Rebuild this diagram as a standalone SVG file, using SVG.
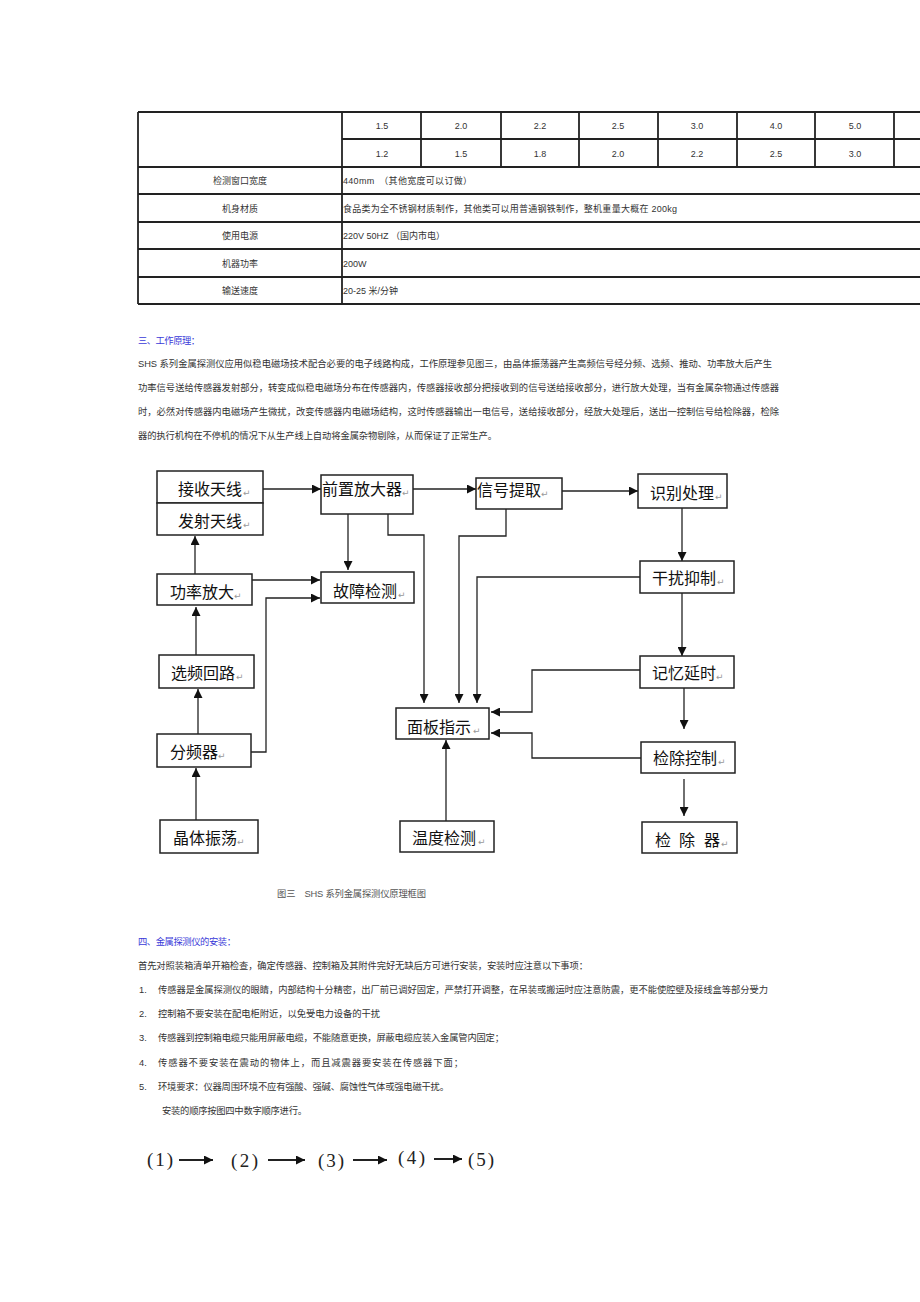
<svg xmlns="http://www.w3.org/2000/svg" width="920" height="1302" viewBox="0 0 920 1302">
<style>
.bg{fill:#fff}
.tl{stroke:#222;stroke-width:1.8;fill:none}
.tt{font-family:"Liberation Sans","Noto Sans CJK SC",sans-serif;font-size:9px;fill:#333}
.tc{text-anchor:middle}
.bt{font-family:"Liberation Sans","Noto Sans CJK SC",sans-serif;font-size:9.3px;fill:#333}
.hd{font-family:"Liberation Sans","Noto Sans CJK SC",sans-serif;font-size:9.3px;fill:#3a3ad8}
.cap{font-family:"Liberation Sans","Noto Sans CJK SC",sans-serif;font-size:9.3px;fill:#555}
.box{fill:#fff;stroke:#222;stroke-width:1.5}
.nt{font-family:"Noto Sans CJK SC",sans-serif;font-size:16px;fill:#111}
.rm{font-family:"DejaVu Sans",sans-serif;font-size:9px;fill:#999}
.cn{fill:none;stroke:#222;stroke-width:1.3}
.sq{font-family:"Liberation Serif","Noto Sans CJK SC",serif;font-size:19px;fill:#222}
.sa{stroke:#222;stroke-width:2;fill:none}
</style>
<defs>
<marker id="ah" viewBox="0 0 10 10" refX="10" refY="5" markerUnits="userSpaceOnUse" markerWidth="9" markerHeight="9" orient="auto">
<path d="M0,0 L10,5 L0,10 z" fill="#111"/>
</marker>
</defs>
<rect class="bg" x="0" y="0" width="920" height="1302"/>

<!-- table -->
<g id="table">
<line class="tl" x1="138" y1="112" x2="920" y2="112"/>
<line class="tl" x1="342" y1="139" x2="920" y2="139"/>
<line class="tl" x1="138" y1="167" x2="920" y2="167"/>
<line class="tl" x1="138" y1="194" x2="920" y2="194"/>
<line class="tl" x1="138" y1="222" x2="920" y2="222"/>
<line class="tl" x1="138" y1="249" x2="920" y2="249"/>
<line class="tl" x1="138" y1="277" x2="920" y2="277"/>
<line class="tl" x1="138" y1="304" x2="920" y2="304"/>
<line class="tl" x1="138" y1="112" x2="138" y2="304"/>
<line class="tl" x1="342" y1="112" x2="342" y2="304"/>
<line class="tl" x1="421" y1="112" x2="421" y2="167"/>
<line class="tl" x1="501" y1="112" x2="501" y2="167"/>
<line class="tl" x1="579" y1="112" x2="579" y2="167"/>
<line class="tl" x1="658" y1="112" x2="658" y2="167"/>
<line class="tl" x1="737" y1="112" x2="737" y2="167"/>
<line class="tl" x1="815" y1="112" x2="815" y2="167"/>
<line class="tl" x1="894" y1="112" x2="894" y2="167"/>
<g class="tt tc">
<text x="382" y="129">1.5</text><text x="461" y="129">2.0</text><text x="540" y="129">2.2</text><text x="618" y="129">2.5</text><text x="697" y="129">3.0</text><text x="776" y="129">4.0</text><text x="855" y="129">5.0</text>
<text x="382" y="157">1.2</text><text x="461" y="157">1.5</text><text x="540" y="157">1.8</text><text x="618" y="157">2.0</text><text x="697" y="157">2.2</text><text x="776" y="157">2.5</text><text x="855" y="157">3.0</text>
<text x="240" y="184">检测窗口宽度</text>
<text x="240" y="212">机身材质</text>
<text x="240" y="239">使用电源</text>
<text x="240" y="267">机器功率</text>
<text x="240" y="294">输送速度</text>
</g>
<g class="tt">
<text x="343" y="184" textLength="129" lengthAdjust="spacing">440mm　（其他宽度可以订做）</text>
<text x="343" y="212" textLength="334" lengthAdjust="spacing">食品类为全不锈钢材质制作，其他类可以用普通钢铁制作，整机重量大概在 200kg</text>
<text x="343" y="239" textLength="102" lengthAdjust="spacing">220V  50HZ （国内市电）</text>
<text x="343" y="267">200W</text>
<text x="343" y="294">20-25 米/分钟</text>
</g>
</g>

<!-- section three -->
<g id="sec3">
<text class="hd" x="138" y="344" textLength="62" lengthAdjust="spacing">三、工作原理：</text>
<text class="bt" x="138" y="367" textLength="634" lengthAdjust="spacing">SHS 系列金属探测仪应用似稳电磁场技术配合必要的电子线路构成，工作原理参见图三，由晶体振荡器产生高频信号经分频、选频、推动、功率放大后产生</text>
<text class="bt" x="138" y="391" textLength="641" lengthAdjust="spacing">功率信号送给传感器发射部分，转变成似稳电磁场分布在传感器内，传感器接收部分把接收到的信号送给接收部分，进行放大处理，当有金属杂物通过传感器</text>
<text class="bt" x="138" y="415" textLength="641" lengthAdjust="spacing">时，必然对传感器内电磁场产生微扰，改变传感器内电磁场结构，这时传感器输出一电信号，送给接收部分，经放大处理后，送出一控制信号给检除器，检除</text>
<text class="bt" x="138" y="439" textLength="359" lengthAdjust="spacing">器的执行机构在不停机的情况下从生产线上自动将金属杂物剔除，从而保证了正常生产。</text>
</g>

<!-- connectors -->
<g id="connectors">
<line class="cn" x1="263" y1="489" x2="321" y2="489" marker-end="url(#ah)"/>
<line class="cn" x1="413" y1="489" x2="476" y2="489" marker-end="url(#ah)"/>
<line class="cn" x1="562" y1="491" x2="638" y2="491" marker-end="url(#ah)"/>
<line class="cn" x1="682" y1="508" x2="682" y2="561" marker-end="url(#ah)"/>
<line class="cn" x1="682" y1="593" x2="682" y2="656" marker-end="url(#ah)"/>
<line class="cn" x1="684" y1="688" x2="684" y2="729" marker-end="url(#ah)"/>
<line class="cn" x1="684" y1="779" x2="684" y2="816" marker-end="url(#ah)"/>
<line class="cn" x1="348" y1="514" x2="348" y2="570" marker-end="url(#ah)"/>
<polyline class="cn" points="388,514 388,535 424,535 424,703" marker-end="url(#ah)"/>
<polyline class="cn" points="506,509 506,536 459,536 459,703" marker-end="url(#ah)"/>
<polyline class="cn" points="640,577 477,577 477,703" marker-end="url(#ah)"/>
<polyline class="cn" points="640,670 532,670 532,712 491,712" marker-end="url(#ah)"/>
<polyline class="cn" points="641,758 532,758 532,733 491,733" marker-end="url(#ah)"/>
<line class="cn" x1="446" y1="821" x2="446" y2="740" marker-end="url(#ah)"/>
<line class="cn" x1="195" y1="574" x2="195" y2="536" marker-end="url(#ah)"/>
<line class="cn" x1="252" y1="580" x2="320" y2="580" marker-end="url(#ah)"/>
<polyline class="cn" points="251,752 266,752 266,598 320,598" marker-end="url(#ah)"/>
<line class="cn" x1="196" y1="655" x2="196" y2="607" marker-end="url(#ah)"/>
<line class="cn" x1="198" y1="734" x2="198" y2="689" marker-end="url(#ah)"/>
<line class="cn" x1="196" y1="820" x2="196" y2="768" marker-end="url(#ah)"/>
</g>

<!-- nodes -->
<g id="n-recv"><rect class="box" x="157" y="471" width="106" height="32"/><text class="nt" x="178" y="495">接收天线</text><text class="rm" x="243" y="496">↵</text></g>
<g id="n-send"><rect class="box" x="157" y="503" width="106" height="32"/><text class="nt" x="178" y="527">发射天线</text><text class="rm" x="243" y="528">↵</text></g>
<g id="n-preamp"><rect class="box" x="321" y="475" width="92" height="39"/><text class="nt" x="322" y="495">前置放大器</text><text class="rm" x="402" y="496">↵</text></g>
<g id="n-extract"><rect class="box" x="476" y="478" width="86" height="31"/><text class="nt" x="477" y="496">信号提取</text><text class="rm" x="541" y="497">↵</text></g>
<g id="n-ident"><rect class="box" x="638" y="474" width="89" height="34"/><text class="nt" x="650" y="499">识别处理</text><text class="rm" x="715" y="500">↵</text></g>
<g id="n-fault"><rect class="box" x="321" y="572" width="93" height="31"/><text class="nt" x="333" y="597">故障检测</text><text class="rm" x="398" y="598">↵</text></g>
<g id="n-power"><rect class="box" x="157" y="574" width="95" height="31"/><text class="nt" x="170" y="598">功率放大</text><text class="rm" x="234" y="599">↵</text></g>
<g id="n-interf"><rect class="box" x="640" y="561" width="94" height="32"/><text class="nt" x="652" y="584">干扰抑制</text><text class="rm" x="717" y="585">↵</text></g>
<g id="n-select"><rect class="box" x="159" y="655" width="95" height="33"/><text class="nt" x="171" y="679">选频回路</text><text class="rm" x="236" y="680">↵</text></g>
<g id="n-memory"><rect class="box" x="640" y="656" width="94" height="32"/><text class="nt" x="652" y="679">记忆延时</text><text class="rm" x="716" y="680">↵</text></g>
<g id="n-panel"><rect class="box" x="396" y="708" width="93" height="31"/><text class="nt" x="407" y="733">面板指示</text><text class="rm" x="473" y="734">↵</text></g>
<g id="n-divider"><rect class="box" x="157" y="734" width="94" height="33"/><text class="nt" x="170" y="758">分频器</text><text class="rm" x="218" y="759">↵</text></g>
<g id="n-reject-ctrl"><rect class="box" x="641" y="742" width="94" height="31"/><text class="nt" x="653" y="764">检除控制</text><text class="rm" x="718" y="765">↵</text></g>
<g id="n-crystal"><rect class="box" x="160" y="820" width="98" height="33"/><text class="nt" x="173" y="844">晶体振荡</text><text class="rm" x="237" y="845">↵</text></g>
<g id="n-temp"><rect class="box" x="400" y="821" width="94" height="31"/><text class="nt" x="412" y="844">温度检测</text><text class="rm" x="478" y="845">↵</text></g>
<g id="n-rejector"><rect class="box" x="642" y="822" width="95" height="31"/><text class="nt" x="655" y="846">检</text><text class="nt" x="679" y="846">除</text><text class="nt" x="704" y="846">器</text><text class="rm" x="721" y="847">↵</text></g>

<!-- caption & section four -->
<text class="cap" x="277" y="897" textLength="149" lengthAdjust="spacing">图三　SHS 系列金属探测仪原理框图</text>
<g id="sec4">
<text class="hd" x="138" y="945" textLength="98" lengthAdjust="spacing">四、金属探测仪的安装：</text>
<text class="bt" x="138" y="969" textLength="450" lengthAdjust="spacing">首先对照装箱清单开箱检查，确定传感器、控制箱及其附件完好无缺后方可进行安装，安装时应注意以下事项：</text>
<text class="bt" x="139" y="993">1.</text>
<text class="bt" x="158" y="993" textLength="610" lengthAdjust="spacing">传感器是金属探测仪的眼睛，内部结构十分精密，出厂前已调好固定，严禁打开调整，在吊装或搬运时应注意防震，更不能使腔壁及接线盒等部分受力</text>
<text class="bt" x="139" y="1017">2.</text>
<text class="bt" x="158" y="1017" textLength="222" lengthAdjust="spacing">控制箱不要安装在配电柜附近，以免受电力设备的干扰</text>
<text class="bt" x="139" y="1041">3.</text>
<text class="bt" x="158" y="1041" textLength="346" lengthAdjust="spacing">传感器到控制箱电缆只能用屏蔽电缆，不能随意更换，屏蔽电缆应装入金属管内固定；</text>
<text class="bt" x="139" y="1066">4.</text>
<text class="bt" x="158" y="1066" textLength="305" lengthAdjust="spacing">传感器不要安装在震动的物体上，而且减震器要安装在传感器下面；</text>
<text class="bt" x="139" y="1090">5.</text>
<text class="bt" x="158" y="1090" textLength="291" lengthAdjust="spacing">环境要求：仪器周围环境不应有强酸、强碱、腐蚀性气体或强电磁干扰。</text>
<text class="bt" x="162" y="1114" textLength="145" lengthAdjust="spacing">安装的顺序按图四中数字顺序进行。</text>
</g>

<!-- sequence -->
<g id="sequence">
<text class="sq" x="147" y="1166" textLength="26" lengthAdjust="spacing">(1)</text>
<line class="sa" x1="179" y1="1160" x2="213" y2="1160" marker-end="url(#ah)"/>
<text class="sq" x="231" y="1167" textLength="27" lengthAdjust="spacing">(2)</text>
<line class="sa" x1="268" y1="1160" x2="305" y2="1160" marker-end="url(#ah)"/>
<text class="sq" x="318" y="1167" textLength="26" lengthAdjust="spacing">(3)</text>
<line class="sa" x1="353" y1="1160" x2="387" y2="1160" marker-end="url(#ah)"/>
<text class="sq" x="398" y="1164" textLength="27" lengthAdjust="spacing">(4)</text>
<line class="sa" x1="434" y1="1159" x2="462" y2="1159" marker-end="url(#ah)"/>
<text class="sq" x="468" y="1166" textLength="26" lengthAdjust="spacing">(5)</text>
</g>
</svg>
